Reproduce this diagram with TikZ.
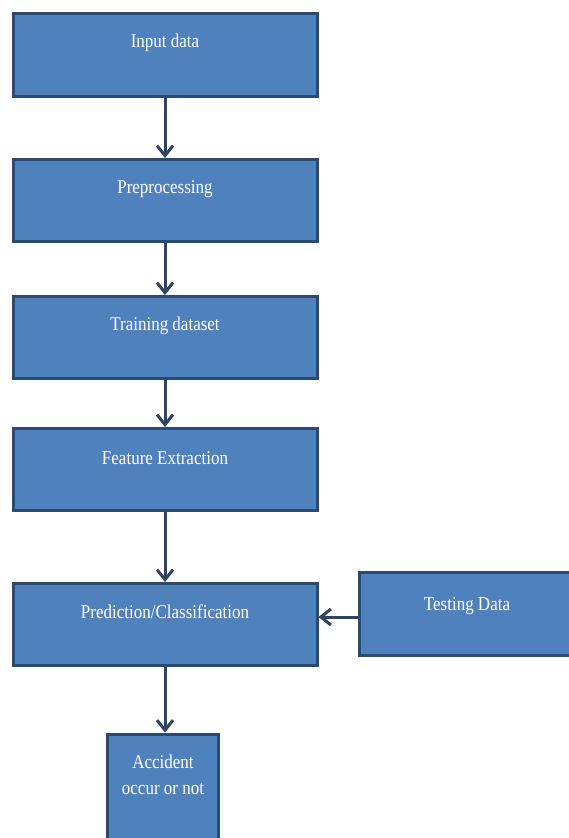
\documentclass[tikz,border=0pt]{standalone}
\usepackage{fontspec}
\setmainfont{Liberation Serif}
\usetikzlibrary{arrows.meta}
\definecolor{boxfill}{HTML}{4F81BD}
\definecolor{boxline}{HTML}{2C4A70}
\definecolor{arrowc}{HTML}{2E4462}
\tikzset{
  flowbox/.style={draw=boxline, line width=3pt, fill=boxfill, rectangle, inner sep=0pt},
  boxtext/.style={text=white, font=\fontsize{17}{20}\selectfont, align=center},
  conn/.style={draw=arrowc, line width=3pt, -{Straight Barb[length=10pt,width=16pt,line width=3pt]}}
}
\begin{document}
\begin{tikzpicture}[x=1pt,y=-1pt]
\useasboundingbox (0,0) rectangle (568,838);
\node[flowbox, minimum width=304pt, minimum height=83pt] (b1) at (165,55) {};
\node[flowbox, minimum width=304pt, minimum height=82pt] (b2) at (165,200.5) {};
\node[flowbox, minimum width=304pt, minimum height=82pt] (b3) at (165,337.5) {};
\node[flowbox, minimum width=304pt, minimum height=82pt] (b4) at (165,469.5) {};
\node[flowbox, minimum width=304pt, minimum height=82pt] (b5) at (165,624.5) {};
\node[flowbox, minimum width=215pt, minimum height=83pt] (b6) at (466.5,614) {};
\node[flowbox, minimum width=111pt, minimum height=112pt] (b7) at (163,790) {};

\node[boxtext] (t1) at (165,43) {\scalebox{1}[1.15]{Input data}};
\node[boxtext] (t2) at (165,189) {\scalebox{1}[1.15]{Preprocessing}};
\node[boxtext] (t3) at (165,326) {\scalebox{1}[1.15]{Training dataset}};
\node[boxtext] (t4) at (165,458) {\scalebox{1}[1.15]{Feature Extraction}};
\node[boxtext] (t5) at (165,612) {\scalebox{1}[1.15]{Prediction/Classification}};
\node[boxtext] (t6) at (467,606) {\scalebox{1}[1.15]{Testing Data}};
\node[boxtext] (t7a) at (163,762) {\scalebox{1}[1.15]{Accident}};
\node[boxtext] (t7b) at (163,789) {\scalebox{1}[1.15]{occur or not}};

\draw[conn] (b1.south) -- (b2.north);
\draw[conn] (b2.south) -- (b3.north);
\draw[conn] (b3.south) -- (b4.north);
\draw[conn] (b4.south) -- (b5.north);
\draw[conn] (b6.west |- 0,617) -- (b5.east |- 0,617);
\draw[conn] (b5.south) -- (b7.north -| b5.south);
\end{tikzpicture}
\end{document}
